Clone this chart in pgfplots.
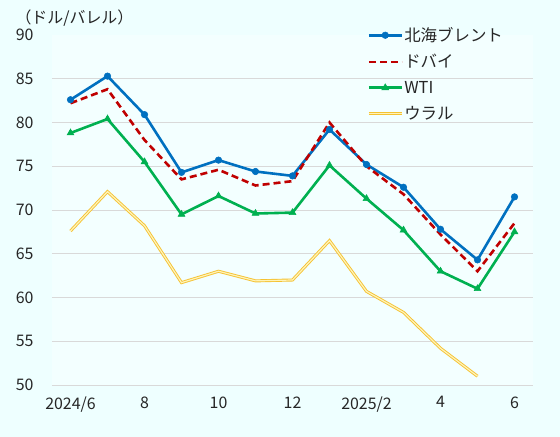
\documentclass[border=0pt]{standalone}
\usepackage{pgfplots}
\pgfplotsset{compat=1.18}
\usepackage{fontspec}
\setmainfont{Noto Sans CJK JP}

\definecolor{bgout}{HTML}{EEFFFF}
\definecolor{bgplot}{HTML}{F3FFFF}
\definecolor{gridc}{HTML}{D9D9D9}
\definecolor{brent}{HTML}{0070C0}
\definecolor{dubai}{HTML}{C00000}
\definecolor{wti}{HTML}{00B050}
\definecolor{ural}{HTML}{F5C232}
\definecolor{uralin}{HTML}{FFF3B8}

% monthly prices, 2024/6 .. 2025/6 (x = 0..12)
\pgfplotstableread{
x brent dubai wti
0  82.6 82.2 78.8
1  85.3 83.8 80.4
2  80.9 78.0 75.5
3  74.3 73.5 69.5
4  75.7 74.6 71.6
5  74.4 72.8 69.6
6  73.9 73.3 69.7
7  79.2 80.0 75.1
8  75.2 75.0 71.3
9  72.6 71.8 67.7
10 67.8 67.2 63.0
11 64.3 63.0 61.0
12 71.5 68.5 67.5
}\prices
\pgfplotstableread{
x ural
0  67.6
1  72.1
2  68.2
3  61.7
4  63.0
5  61.9
6  62.0
7  66.5
8  60.7
9  58.3
10 54.2
11 51.0
}\urals

\begin{document}
\begin{tikzpicture}
\fill[bgout] (0bp,0bp) rectangle (560bp,437bp);
\begin{axis}[
  at={(52bp,52bp)}, anchor=south west,
  scale only axis, width=481bp, height=350bp,
  xmin=-0.5, xmax=12.5, ymin=50, ymax=90,
  axis background/.style={fill=bgplot},
  axis x line*=bottom, axis y line*=left,
  x axis line style={draw=gridc, line width=0.8bp},
  y axis line style={draw=none},
  major tick length=0pt,
  xtick={0,2,...,12},
  xticklabels={2024/6,8,10,12,2025/2,4,6},
  ytick={55,60,...,85},
  extra y ticks={50,90},
  extra y tick style={grid=none},
  ymajorgrids, grid style={draw=gridc, line width=0.8bp},
  /pgf/number format/assume math mode=true,
  ticklabel style={font=\fontsize{16}{18}\selectfont, text=black!85},
  yticklabel style={xshift=-15bp},
  xticklabel style={yshift=-8bp},
  ylabel={（ドル/バレル）},
  ylabel style={rotate=-90, anchor=west, at={(rel axis cs:0,1)},
    xshift=-40bp, yshift=17bp, font=\fontsize{16}{18}\selectfont, text=black!85},
  legend style={at={(rel axis cs:0.655,1.025)}, anchor=north west,
    draw=none, fill=none, inner sep=0pt, row sep=9.5bp,
    font=\fontsize{16.5}{18}\selectfont, text=black!85,
    nodes={inner sep=1bp}},
  legend cell align=left,
  legend image code/.code={\draw[mark repeat=2,mark phase=2,#1]
    plot coordinates {(0bp,0bp) (16.5bp,0bp) (33bp,0bp)};},
]
\addplot[brent, line width=2.6bp, mark=*, mark size=3.3bp,
  mark options={fill=brent, draw=brent, line width=0.5bp}]
  table[x=x, y=brent] {\prices};
\addlegendentry{北海ブレント}
\addplot[dubai, line width=2.6bp, dash pattern=on 7bp off 4bp]
  table[x=x, y=dubai] {\prices};
\addlegendentry{ドバイ}
\addplot[wti, line width=2.6bp, mark=triangle*, mark size=4bp,
  mark options={fill=wti, draw=wti, line width=0.5bp, solid}]
  table[x=x, y=wti] {\prices};
\addlegendentry{WTI}
\addplot[draw=ural, double=uralin, double distance=1.2bp, line width=0.9bp]
  table[x=x, y=ural] {\urals};
\addlegendentry{ウラル}
\end{axis}
\pgfresetboundingbox
\path (0bp,0bp) rectangle (560bp,437bp);
\end{tikzpicture}
\end{document}
